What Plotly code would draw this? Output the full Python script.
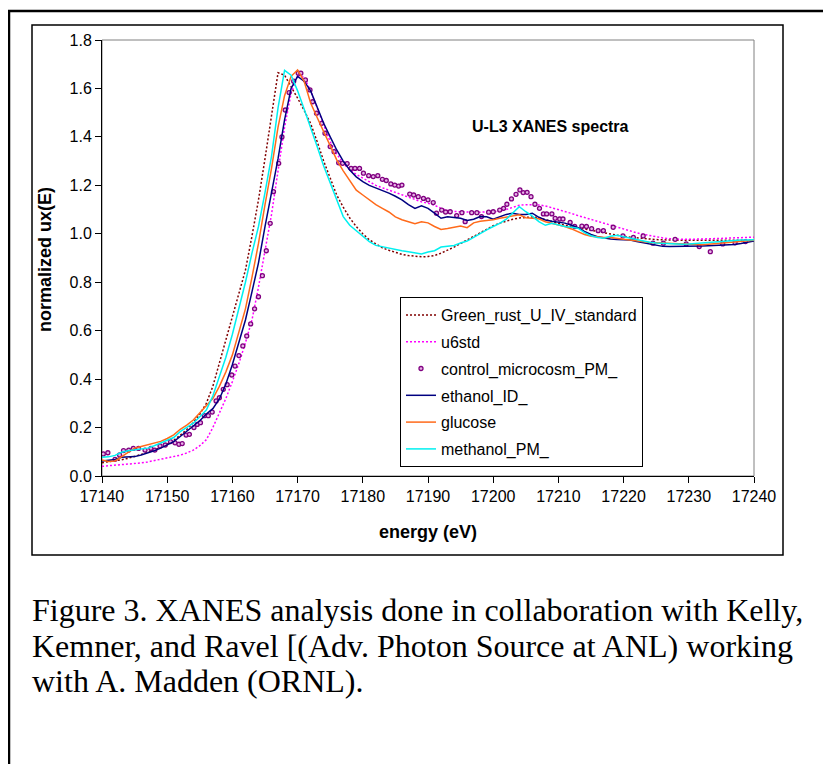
import plotly.graph_objects as go

# ---------------- data ----------------
energy = list(range(17140, 17241))

green_rust = [
    0.055, 0.058, 0.062, 0.067, 0.073, 0.080, 0.088, 0.097, 0.107, 0.118,
    0.132, 0.148, 0.168, 0.192, 0.220, 0.255, 0.300, 0.370, 0.465, 0.565,
    0.655, 0.750, 0.850, 0.990, 1.140, 1.310, 1.490, 1.665, 1.655, 1.610,
    1.560, 1.510, 1.455, 1.380, 1.300, 1.230, 1.160, 1.110, 1.065, 1.030,
    1.000, 0.975, 0.957, 0.942, 0.932, 0.922, 0.915, 0.910, 0.907, 0.905,
    0.906, 0.910, 0.920, 0.932, 0.945, 0.960, 0.975, 0.990, 1.005, 1.020,
    1.033, 1.044, 1.053, 1.060, 1.065, 1.068, 1.070, 1.066, 1.058, 1.050,
    1.042, 1.035, 1.030, 1.025, 1.020, 1.014, 1.008, 1.002, 0.997, 0.993,
    0.989, 0.986, 0.983, 0.980, 0.978, 0.976, 0.975, 0.974, 0.973, 0.973,
    0.973, 0.973, 0.973, 0.973, 0.973, 0.973, 0.973, 0.973, 0.973, 0.973, 0.973,
]

u6std = [
    0.040, 0.042, 0.044, 0.046, 0.048, 0.050, 0.054, 0.058, 0.063, 0.068,
    0.073, 0.079, 0.086, 0.095, 0.107, 0.125, 0.150, 0.200, 0.260, 0.320,
    0.390, 0.465, 0.550, 0.644, 0.780, 0.930, 1.080, 1.260, 1.440, 1.580,
    1.655, 1.645, 1.590, 1.520, 1.450, 1.380, 1.330, 1.290, 1.265, 1.245,
    1.230, 1.215, 1.200, 1.190, 1.180, 1.170, 1.160, 1.150, 1.140, 1.132,
    1.126, 1.118, 1.105, 1.096, 1.092, 1.090, 1.089, 1.089, 1.089, 1.090,
    1.091, 1.093, 1.100, 1.110, 1.118, 1.120, 1.120, 1.119, 1.115, 1.108,
    1.100, 1.092, 1.084, 1.075, 1.067, 1.058, 1.050, 1.042, 1.034, 1.026,
    1.018, 1.010, 1.004, 0.998, 0.992, 0.987, 0.983, 0.980, 0.977, 0.977,
    0.977, 0.977, 0.978, 0.979, 0.980, 0.981, 0.982, 0.983, 0.984, 0.985, 0.986,
]

ethanol = [
    0.062, 0.064, 0.068, 0.077, 0.078, 0.080, 0.087, 0.095, 0.104, 0.115,
    0.128, 0.142, 0.163, 0.184, 0.205, 0.228, 0.256, 0.278, 0.318, 0.380,
    0.460, 0.550, 0.644, 0.760, 0.880, 1.030, 1.170, 1.310, 1.470, 1.600,
    1.650, 1.630, 1.590, 1.520, 1.456, 1.400, 1.346, 1.300, 1.263, 1.235,
    1.215, 1.200, 1.190, 1.178, 1.168, 1.155, 1.140, 1.120, 1.105, 1.115,
    1.105, 1.085, 1.064, 1.070, 1.068, 1.064, 1.055, 1.060, 1.071, 1.070,
    1.060, 1.070, 1.080, 1.085, 1.080, 1.080, 1.085, 1.068, 1.057, 1.052,
    1.048, 1.044, 1.035, 1.025, 1.010, 0.997, 0.988, 0.982, 0.978, 0.976,
    0.975, 0.974, 0.968, 0.963, 0.959, 0.955, 0.948, 0.947, 0.947, 0.947,
    0.948, 0.949, 0.950, 0.951, 0.952, 0.953, 0.954, 0.956, 0.960, 0.965, 0.970,
]

glucose = [
    0.066, 0.060, 0.062, 0.080, 0.100, 0.115, 0.122, 0.128, 0.135, 0.143,
    0.155, 0.170, 0.193, 0.210, 0.231, 0.260, 0.290, 0.320, 0.370, 0.430,
    0.500, 0.595, 0.690, 0.820, 0.960, 1.120, 1.270, 1.440, 1.570, 1.650,
    1.676, 1.630, 1.540, 1.480, 1.420, 1.360, 1.305, 1.260, 1.220, 1.180,
    1.160, 1.140, 1.120, 1.105, 1.090, 1.070, 1.058, 1.050, 1.042, 1.050,
    1.045, 1.030, 1.018, 1.022, 1.027, 1.032, 1.025, 1.045, 1.052, 1.054,
    1.058, 1.064, 1.068, 1.072, 1.078, 1.066, 1.064, 1.062, 1.050, 1.044,
    1.036, 1.030, 1.020, 1.008, 0.997, 0.990, 0.986, 0.985, 0.985, 0.980,
    0.977, 0.974, 0.970, 0.967, 0.964, 0.963, 0.962, 0.961, 0.961, 0.959,
    0.957, 0.955, 0.955, 0.957, 0.959, 0.961, 0.963, 0.965, 0.968, 0.971, 0.973,
]

methanol = [
    0.077, 0.079, 0.085, 0.098, 0.104, 0.108, 0.111, 0.115, 0.125, 0.136,
    0.147, 0.159, 0.183, 0.200, 0.218, 0.245, 0.272, 0.330, 0.410, 0.490,
    0.585, 0.690, 0.800, 0.920, 1.030, 1.170, 1.320, 1.520, 1.675, 1.655,
    1.590, 1.515, 1.440, 1.360, 1.280, 1.208, 1.140, 1.071, 1.035, 1.012,
    0.990, 0.968, 0.952, 0.946, 0.940, 0.936, 0.930, 0.926, 0.920, 0.917,
    0.925, 0.930, 0.945, 0.947, 0.952, 0.962, 0.970, 0.985, 1.002, 1.016,
    1.030, 1.043, 1.060, 1.085, 1.112, 1.091, 1.073, 1.050, 1.035, 1.043,
    1.036, 1.030, 1.027, 1.023, 1.005, 0.992, 0.985, 0.982, 0.990, 0.994,
    0.988, 0.982, 0.976, 0.970, 0.965, 0.962, 0.960, 0.958, 0.957, 0.957,
    0.958, 0.960, 0.962, 0.963, 0.966, 0.969, 0.972, 0.973, 0.974, 0.974, 0.975,
]

control_energy = [
    17140.2, 17140.9, 17142.0, 17142.7, 17143.3, 17144.1, 17144.8, 17145.6, 17146.6, 17147.5,
    17148.1, 17148.9, 17149.7, 17150.5, 17151.2, 17151.8, 17152.3, 17152.9, 17153.4, 17154.1,
    17154.6, 17155.1, 17155.7, 17156.3, 17156.9, 17157.5, 17158.0, 17158.6, 17159.2, 17159.9,
    17160.4, 17161.0, 17161.6, 17162.2, 17162.8, 17163.4, 17164.0, 17164.6, 17165.2, 17165.8,
    17166.3, 17167.1, 17167.6, 17168.1, 17168.7, 17169.4, 17170.1, 17170.5, 17171.2, 17171.9,
    17172.3, 17172.9, 17173.7, 17174.2, 17175.0, 17175.6, 17176.3, 17176.9, 17177.6, 17178.2,
    17178.8, 17179.5, 17180.1, 17180.9, 17181.6, 17182.3, 17183.0, 17183.6, 17184.3, 17184.9,
    17185.5, 17186.0, 17187.2, 17187.8, 17188.5, 17189.3, 17190.0, 17190.8, 17191.3, 17192.1,
    17192.7, 17193.4, 17194.4, 17195.2, 17195.7, 17196.7, 17197.5, 17198.2, 17199.3, 17200.0,
    17201.0, 17201.6, 17202.1, 17202.8, 17203.5, 17204.1, 17204.6, 17205.2, 17205.8, 17206.4,
    17207.1, 17207.7, 17208.2, 17209.0, 17209.5, 17210.2, 17210.7, 17211.8, 17212.5, 17213.6,
    17214.3, 17215.1, 17216.1, 17216.9, 17218.4, 17219.9, 17221.5, 17223.0, 17224.5, 17226.1,
    17227.9, 17229.6, 17231.6, 17233.3, 17235.2, 17237.1, 17238.7,
]

control_values = [
    0.091, 0.096, 0.069, 0.087, 0.105, 0.107, 0.114, 0.114, 0.107, 0.114,
    0.107, 0.124, 0.128, 0.142, 0.137, 0.131, 0.134, 0.169, 0.172, 0.200,
    0.213, 0.220, 0.249, 0.249, 0.264, 0.310, 0.323, 0.358, 0.377, 0.417,
    0.454, 0.497, 0.537, 0.578, 0.628, 0.690, 0.740, 0.827, 0.930, 1.043,
    1.174, 1.291, 1.400, 1.511, 1.583, 1.630, 1.663, 1.663, 1.635, 1.594,
    1.545, 1.498, 1.456, 1.415, 1.360, 1.339, 1.293, 1.291, 1.290, 1.270,
    1.270, 1.270, 1.250, 1.240, 1.236, 1.240, 1.225, 1.220, 1.206, 1.201,
    1.197, 1.201, 1.164, 1.160, 1.153, 1.146, 1.140, 1.129, 1.085, 1.098,
    1.090, 1.091, 1.075, 1.087, 1.050, 1.087, 1.087, 1.071, 1.089, 1.091,
    1.098, 1.105, 1.122, 1.144, 1.163, 1.181, 1.170, 1.171, 1.153, 1.122,
    1.105, 1.082, 1.082, 1.082, 1.064, 1.061, 1.061, 1.047, 1.030, 1.032,
    1.030, 1.021, 1.013, 1.013, 1.027, 0.991, 0.985, 0.991, 0.961, 0.961,
    0.977, 0.958, 0.947, 0.926, 0.958, 0.963, 0.968,
]

x_ticks = [17140, 17150, 17160, 17170, 17180, 17190, 17200, 17210, 17220, 17230, 17240]
y_ticks = [0.0, 0.2, 0.4, 0.6, 0.8, 1.0, 1.2, 1.4, 1.6, 1.8]

# ---------------- layout helpers ----------------
# page is offset by the 8px body margin; positions below are page pixels
OFF = 8
W, H = 823, 756
ML, MT = 94, 32
MR = W - 746
MB = H - 468
PW, PH = W - ML - MR, H - MT - MB


def px(x):
    return (x - OFF - ML) / PW


def py(y):
    return (H - MB - (y - OFF)) / PH


SANS = "Liberation Sans, Arial, sans-serif"
SERIF = "Liberation Serif, Times New Roman, serif"

fig = go.Figure()

line_series = [
    ("Green_rust_U_IV_standard", green_rust, "#800000", "2px,2px"),
    ("u6std", u6std, "#FF00FF", "2px,2px"),
]
for name, vals, color, dash in line_series:
    fig.add_trace(go.Scatter(
        x=energy, y=vals, name=name, mode="lines",
        line=dict(color=color, width=1.5, dash=dash),
        legendgroup=name,
    ))

fig.add_trace(go.Scatter(
    x=control_energy, y=control_values, name="control_microcosm_PM_", mode="markers",
    marker=dict(symbol="circle", size=4, color="#E6B3E6",
                line=dict(color="#800080", width=1.3)),
    legendgroup="control",
))

solid_series = [
    ("ethanol_ID_", ethanol, "#000080"),
    ("glucose", glucose, "#FF6A1A"),
    ("methanol_PM_", methanol, "#00F0F0"),
]
for name, vals, color in solid_series:
    fig.add_trace(go.Scatter(
        x=energy, y=vals, name=name, mode="lines",
        line=dict(color=color, width=1.5),
        legendgroup=name,
    ))

axis_common = dict(
    showgrid=False, zeroline=False, showline=True, linecolor="#000000", linewidth=1,
    ticks="outside", ticklen=6, tickcolor="#000000", tickwidth=1,
    tickfont=dict(family=SANS, size=16, color="#000000"),
)

fig.update_layout(
    width=W, height=H, autosize=False,
    margin=dict(l=ML, r=MR, t=MT, b=MB),
    paper_bgcolor="white", plot_bgcolor="white",
    xaxis=dict(range=[17140, 17240], tickvals=x_ticks,
               ticktext=[str(t) for t in x_ticks], **axis_common),
    yaxis=dict(range=[0, 1.8], tickvals=y_ticks,
               ticktext=["%.1f" % t for t in y_ticks], **axis_common),
    legend=dict(
        x=px(400), y=py(297), xanchor="left", yanchor="top",
        bgcolor="white", bordercolor="#000000", borderwidth=1,
        font=dict(family=SANS, size=16, color="#000000"),
        tracegroupgap=3, itemwidth=30, traceorder="grouped",
    ),
    showlegend=True,
)

fig.update_layout(shapes=[
    # plot area frame (grey top / right)
    dict(type="rect", xref="paper", yref="paper", x0=0, x1=1, y0=0, y1=1,
         line=dict(color="#808080", width=1), layer="below"),
    # chart area frame
    dict(type="rect", xref="paper", yref="paper", x0=px(32), x1=px(783),
         y0=py(555), y1=py(25), line=dict(color="#000000", width=1.5)),
    # page frame
    dict(type="rect", xref="paper", yref="paper", x0=px(9), x1=px(860),
         y0=py(800), y1=py(11), line=dict(color="#000000", width=2.5)),
])

annotations = [
    dict(text="<b>U-L3 XANES spectra</b>", x=px(470), y=py(127), xanchor="left",
         yanchor="middle", font=dict(family=SANS, size=16, color="#000000")),
    dict(text="<b>normalized ux(E)</b>", x=px(45), y=py(260), xanchor="center",
         yanchor="middle", textangle=-90, font=dict(family=SANS, size=18, color="#000000")),
    dict(text="<b>energy (eV)</b>", x=px(428), y=py(532), xanchor="center",
         yanchor="middle", font=dict(family=SANS, size=18, color="#000000")),
]
caption_lines = [
    "Figure 3. XANES analysis done in collaboration with Kelly,",
    "Kemner, and Ravel [(Adv. Photon Source at ANL) working",
    "with A. Madden (ORNL).",
]
for i, line in enumerate(caption_lines):
    annotations.append(dict(
        text=line, x=px(30), y=py(610 + 35.5 * i), xanchor="left", yanchor="middle",
        font=dict(family=SERIF, size=32, color="#000000"),
    ))
for a in annotations:
    a.update(xref="paper", yref="paper", showarrow=False)
fig.update_layout(annotations=annotations)

fig.write_html("out.html")
